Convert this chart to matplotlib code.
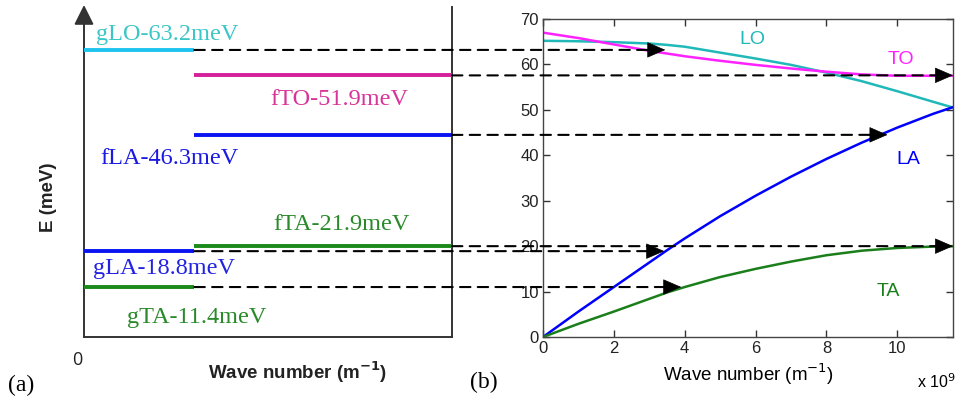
import matplotlib
matplotlib.use('Agg')
import matplotlib.pyplot as plt
from matplotlib.patches import ConnectionPatch
import numpy as np

# dispersion curves (wave number in 1e9 m^-1, energy in meV)
k = [0, 1, 2, 3, 3.5, 4, 5, 6, 7, 8, 9, 10, 11, 11.57]
E_LO = [65.2, 65.1, 64.9, 64.6, 64.3, 63.9, 62.6, 61.3, 59.9, 58.2, 56.3, 54.1, 51.8, 50.5]
E_TO = [67.0, 65.8, 64.4, 63.0, 62.4, 61.8, 60.8, 59.9, 59.1, 58.4, 57.8, 57.5, 57.5, 57.5]
E_LA = [0.0, 5.6, 11.0, 16.4, 19.1, 21.7, 26.6, 31.1, 35.3, 39.2, 42.8, 46.1, 49.1, 50.6]
E_TA = [0.0, 2.9, 5.6, 8.4, 9.8, 11.0, 13.2, 15.0, 16.6, 18.0, 19.0, 19.6, 19.9, 20.0]

# phonon levels drawn on the left panel
lvl_names = ['gLO-63.2meV', 'fTO-51.9meV', 'fLA-46.3meV', 'fTA-21.9meV', 'gLA-18.8meV', 'gTA-11.4meV']
lvl_E = [63.2, 57.6, 44.5, 20.0, 18.9, 11.0]
lvl_kind = ['g', 'f', 'f', 'f', 'g', 'g']
lvl_tip = [3.45, 11.57, 9.72, 11.57, 3.42, 3.9]   # where the arrow hits the curve
lbl_x = [0.033, 0.505, 0.043, 0.514, 0.024, 0.117]
lbl_y = [66.5, 52.2, 39.4, 24.7, 15.0, 4.4]

col_line = ['#1ec4ee', '#d4209a', '#0a14f0', '#1a8a1a', '#0a14f0', '#1a8a1a']
col_text = ['#3cc6c8', '#d8359a', '#1a1ae0', '#2a8a2a', '#2222e0', '#2a8a2a']

fig = plt.figure(figsize=(9.55, 4.05), dpi=100)
axl = fig.add_axes([84/955, 68/405, 368/955, 332/405])
axr = fig.add_axes([543/955, 68/405, 410/955, 318/405])

# ---- left panel (a)
axl.set_xlim(0, 1)
axl.set_ylim(0, 73.1)
axl.set_xticks([])
axl.set_yticks([])
for s in ['top', 'left']:
    axl.spines[s].set_visible(False)
for s in ['bottom', 'right']:
    axl.spines[s].set_linewidth(1.4)
    axl.spines[s].set_color('#333333')
axl.spines['right'].set_bounds(0, 72.6)
axl.annotate('', xy=(0, 73.1), xytext=(0, 0), annotation_clip=False,
             arrowprops=dict(arrowstyle='-|>,head_length=0.6,head_width=0.3',
                             mutation_scale=20, color='#333333', lw=1.4, shrinkA=0, shrinkB=0))

split = 0.3
for i in range(len(lvl_E)):
    x0, x1 = (0, split) if lvl_kind[i] == 'g' else (split, 1)
    axl.plot([x0, x1], [lvl_E[i], lvl_E[i]], color=col_line[i], lw=2.8,
             solid_capstyle='butt', zorder=3)
    axl.text(lbl_x[i], lbl_y[i], lvl_names[i], color=col_text[i], fontsize=17.5,
             family='Liberation Serif', ha='left', va='center')

axl.text(-0.005, -0.07, '0', transform=axl.transAxes, fontsize=13, ha='right',
         va='center', color='#222222', family='Open Sans')
axl.text(0.58, -0.105, 'Wave number (m$^{\\mathbf{-1}}$)', transform=axl.transAxes,
         fontsize=13.5, ha='center', va='center', fontweight='bold', color='#222222',
         family='Liberation Sans')
fig.text(48/955, 1 - 197/405, 'E (meV)', rotation=90, fontsize=13.5, fontweight='bold',
         ha='center', va='center', color='#222222', family='Liberation Sans')
fig.text(8/955, 1 - 385/405, '(a)', fontsize=17, family='Liberation Serif',
         ha='left', va='center')

# ---- right panel (b)
axr.plot(k, E_LO, color='#20b8b8', lw=1.8)
axr.plot(k, E_TO, color='#ff22ff', lw=1.8)
axr.plot(k, E_LA, color='#0000ff', lw=1.8)
axr.plot(k, E_TA, color='#1a7f1a', lw=1.8)
axr.set_xlim(0, 11.57)
axr.set_ylim(0, 70)
axr.set_xticks(range(0, 11, 2))
axr.set_yticks(range(0, 71, 10))
axr.tick_params(direction='in', top=True, right=True, length=5, width=1,
                labelsize=12, colors='#333333', pad=3)
for lab in axr.get_xticklabels() + axr.get_yticklabels():
    lab.set_family('Liberation Sans')
    lab.set_color('#222222')
for s in axr.spines.values():
    s.set_color('#444444')
    s.set_linewidth(1)

axr.text(5.9, 65.5, 'LO', color='#20b8b8', fontsize=14, family='Liberation Sans', ha='center', va='center')
axr.text(10.1, 61.0, 'TO', color='#ff22ff', fontsize=14, family='Liberation Sans', ha='center', va='center')
axr.text(10.3, 39.0, 'LA', color='#0000ff', fontsize=14, family='Liberation Sans', ha='center', va='center')
axr.text(9.75, 10.0, 'TA', color='#1a7f1a', fontsize=14, family='Liberation Sans', ha='center', va='center')

axr.set_xlabel('Wave number (m$^{-1}$)', fontsize=13.5, family='Liberation Sans', labelpad=4)
fig.text(917/955, 1 - 382/405, 'x 10$^9$', fontsize=11.5, family='Liberation Sans',
         ha='left', va='center')
fig.text(470/955, 1 - 382/405, '(b)', fontsize=17, family='Liberation Serif',
         ha='left', va='center')

# ---- dashed arrows from levels to curves
for i in range(len(lvl_E)):
    xs = split if lvl_kind[i] == 'g' else 1.0
    con = ConnectionPatch(xyA=(xs, lvl_E[i]), coordsA=axl.transData,
                          xyB=(lvl_tip[i] - 0.2, lvl_E[i]), coordsB=axr.transData,
                          color='black', lw=1.5, linestyle=(0, (5, 3.5)), zorder=5)
    fig.add_artist(con)
    axr.annotate('', xy=(lvl_tip[i], lvl_E[i]), xytext=(lvl_tip[i] - 0.45, lvl_E[i]),
                 annotation_clip=False,
                 arrowprops=dict(arrowstyle='-|>,head_length=0.6,head_width=0.26',
                                 mutation_scale=20, color='black', lw=0.5,
                                 shrinkA=0, shrinkB=0))

fig.savefig('out.png', dpi=100)
